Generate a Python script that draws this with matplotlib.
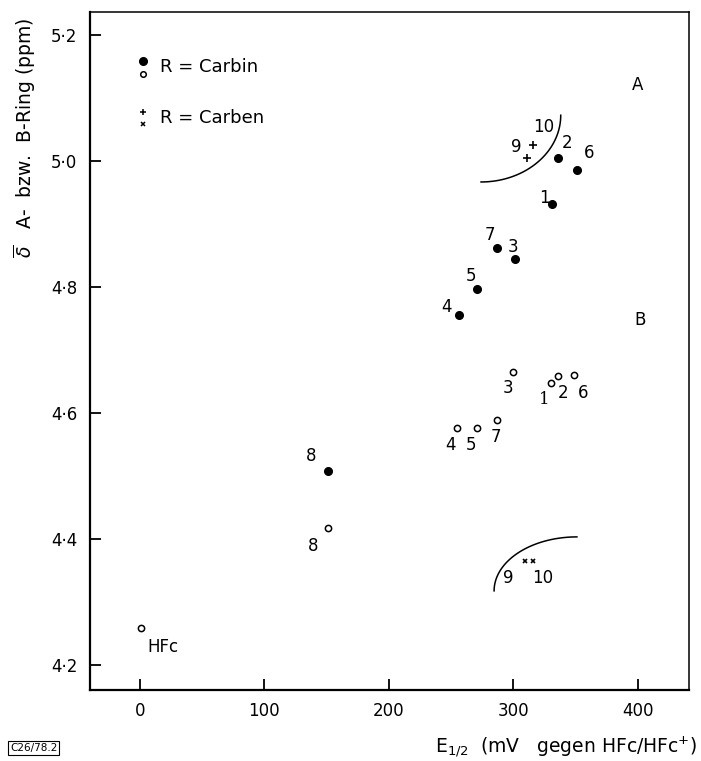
import numpy as np
import matplotlib
matplotlib.use('Agg')
import matplotlib.pyplot as plt

plt.rcParams['font.family'] = ['DejaVu Sans']

# Ring A (filled, R = Carbin)
a_labels = ['1', '2', '3', '4', '5', '6', '7', '8']
a_x = [331, 336, 301, 256, 271, 351, 287, 151]
a_y = [4.932, 5.005, 4.844, 4.756, 4.797, 4.986, 4.862, 4.508]

# Ring B (open, R = Carbin)
b_labels = ['1', '2', '3', '4', '5', '6', '7', '8', 'HFc']
b_x = [330, 336, 300, 255, 271, 349, 287, 151, 1]
b_y = [4.648, 4.659, 4.665, 4.576, 4.576, 4.660, 4.589, 4.417, 4.259]

# R = Carben, ring A (+) and ring B (x)
plus_labels = ['9', '10']
plus_x = [311, 316]
plus_y = [5.005, 5.025]
cross_labels = ['9', '10']
cross_x = [309, 316]
cross_y = [4.365, 4.365]

yticks = [4.2, 4.4, 4.6, 4.8, 5.0, 5.2]
ytick_labels = ['4·2', '4·4', '4·6', '4·8', '5·0', '5·2']
xticks = [0, 100, 200, 300, 400]

# label offsets in pixels (dx, dy)
a_off = [(-8, 6), (9, 15), (-2, 12), (-12, 8), (-6, 13), (12, 17), (-7, 13), (-17, 15)]
b_off = [(-7, -17), (5, -17), (-5, -16), (-7, -17), (-6, -17), (9, -18), (-1, -17), (-15, -18), (6, -19)]
plus_off = [(-11, 11), (10, 18)]
cross_off = [(-16, -17), (9, -17)]

fig = plt.figure(figsize=(7.01, 7.61), dpi=100, facecolor='w')
ax = fig.add_axes([90 / 701, 1 - 690 / 761, 599 / 701, 678 / 761])

ax.plot(a_x, a_y, 'o', color='k', markersize=5.5, linestyle='none')
ax.plot(b_x, b_y, 'o', markerfacecolor='w', markeredgecolor='k',
        markeredgewidth=1.1, markersize=4.5, linestyle='none')
ax.plot(plus_x, plus_y, '+', color='k', markersize=6, markeredgewidth=1.2, linestyle='none')
ax.plot(cross_x, cross_y, 'x', color='k', markersize=3.5, markeredgewidth=1.2, linestyle='none')

fs = 12
for lab, x, y, o in zip(a_labels, a_x, a_y, a_off):
    ax.annotate(lab, (x, y), xytext=o, textcoords='offset pixels',
                ha='center', va='center', fontsize=fs)
for lab, x, y, o in zip(b_labels, b_x, b_y, b_off):
    ha = 'left' if lab == 'HFc' else 'center'
    fam = 'DejaVu Serif' if lab == '1' else 'DejaVu Sans'
    ax.annotate(lab, (x, y), xytext=o, textcoords='offset pixels',
                ha=ha, va='center', fontsize=fs, family=fam)
for lab, x, y, o in zip(plus_labels, plus_x, plus_y, plus_off):
    ax.annotate(lab, (x, y), xytext=o, textcoords='offset pixels',
                ha='center', va='center', fontsize=fs)
for lab, x, y, o in zip(cross_labels, cross_x, cross_y, cross_off):
    ax.annotate(lab, (x, y), xytext=o, textcoords='offset pixels',
                ha='center', va='center', fontsize=fs)

# separating arcs (quarter ellipses)
t = np.radians(np.linspace(270, 360, 60))
ax.plot(274 + 64 * np.cos(t), 5.073 + 0.106 * np.sin(t), color='k', lw=1.1)
t = np.radians(np.linspace(90, 180, 60))
ax.plot(351 + 66.5 * np.cos(t), 4.3175 + 0.0857 * np.sin(t), color='k', lw=1.1)

ax.text(400, 5.121, 'A', ha='center', va='center', fontsize=fs)
ax.text(402, 4.748, 'B', ha='center', va='center', fontsize=fs)

# legend
ax.plot([2.4], [5.159], 'o', color='k', markersize=5.5)
ax.plot([2.4], [5.138], 'o', markerfacecolor='w', markeredgecolor='k',
        markeredgewidth=1.1, markersize=4)
ax.text(16, 5.149, 'R = Carbin', ha='left', va='center', fontsize=13)
ax.plot([2.4], [5.078], '+', color='k', markersize=5, markeredgewidth=1.1)
ax.plot([2.4], [5.059], 'x', color='k', markersize=3.3, markeredgewidth=1.1)
ax.text(16, 5.068, 'R = Carben', ha='left', va='center', fontsize=13)

ax.set_xlim(-40, 441)
ax.set_ylim(4.160, 5.237)
ax.set_xticks(xticks)
ax.set_xticklabels([str(v) for v in xticks])
ax.set_yticks(yticks)
ax.set_yticklabels(ytick_labels)
ax.tick_params(direction='in', length=8, width=1.3, labelsize=12)
ax.tick_params(axis='y', pad=9)
ax.tick_params(axis='x', pad=9)
for s in ['left', 'bottom']:
    ax.spines[s].set_linewidth(1.6)
for s in ['right', 'top']:
    ax.spines[s].set_linewidth(1.1)

fig.text(25 / 701, 1 - 138 / 761, r'$\overline{\delta}$   A-  bzw.  B-Ring (ppm)',
         rotation=90, ha='center', va='center', fontsize=13.5)
fig.text(697 / 701, 1 - 747 / 761, r'E$_{1/2}$  (mV   gegen HFc/HFc$^{+}$)',
         ha='right', va='center', fontsize=13.5)
fig.text(10 / 701, 1 - 748 / 761, 'C26/78.2', ha='left', va='center', fontsize=7.5,
         bbox=dict(boxstyle='square,pad=0.2', facecolor='w', edgecolor='k', lw=0.8))

fig.savefig('out.png', dpi=100)
